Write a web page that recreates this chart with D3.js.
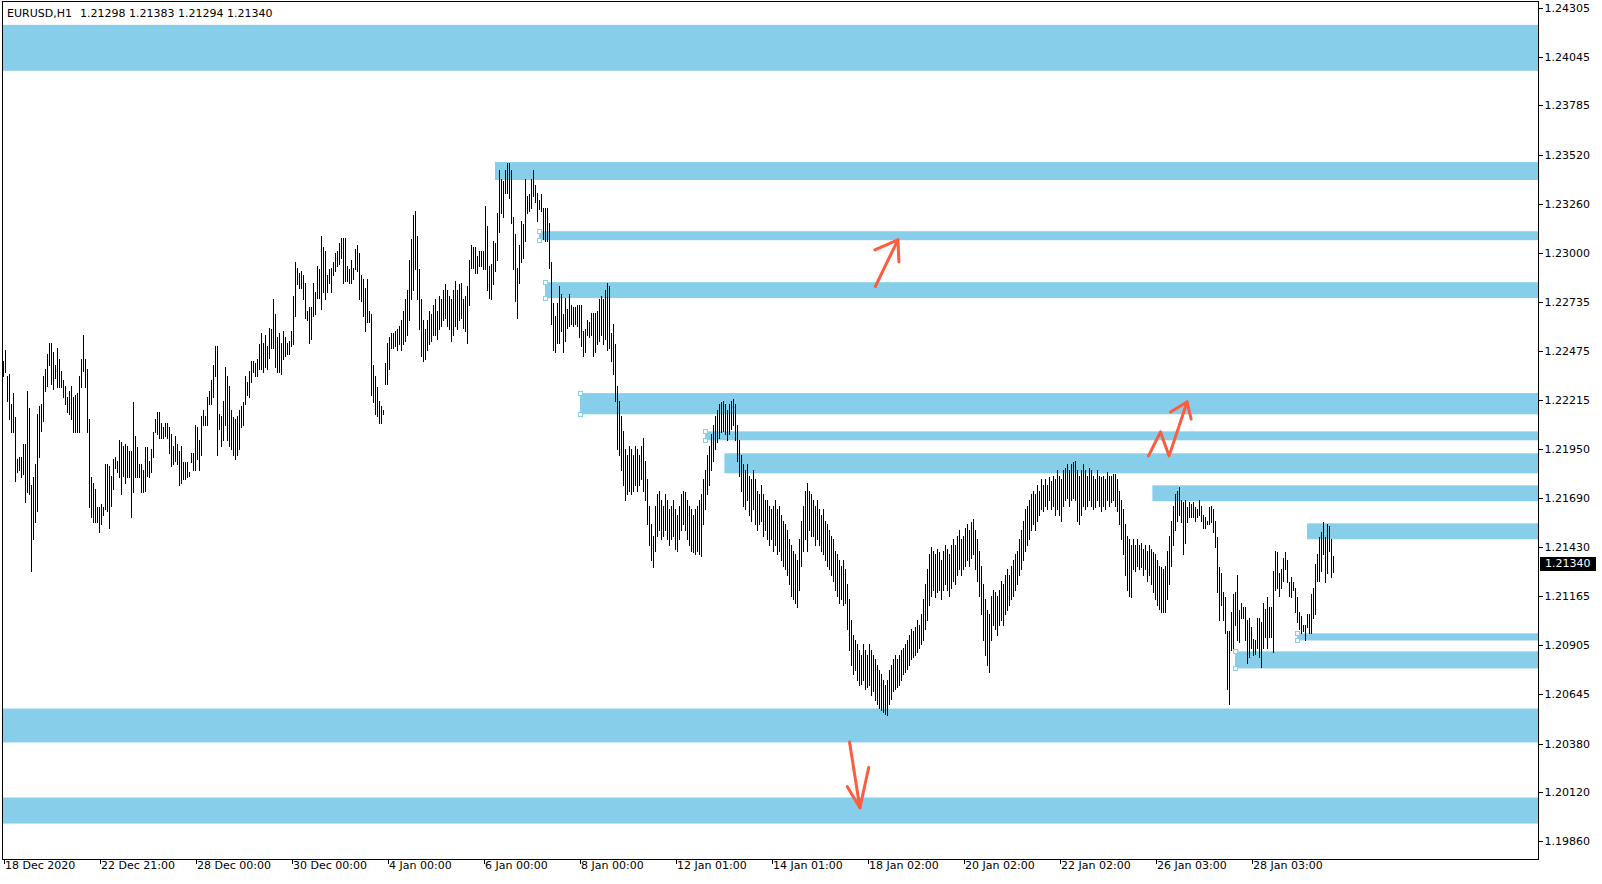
<!DOCTYPE html>
<html><head><meta charset="utf-8">
<script src="https://cdn.jsdelivr.net/npm/d3@7"></script>
<style>
html,body{margin:0;padding:0;background:#fff;overflow:hidden}
svg{display:block;font-family:"DejaVu Sans",sans-serif;font-size:11px}
</style>
</head><body>
<svg id="c" width="1602" height="884"></svg>
<script>
// ---------- DATA ----------
const symbol = "EURUSD,H1";
const ohlc = [1.21298, 1.21383, 1.21294, 1.21340];
const lastPrice = 1.21340;
const priceTicks = [1.24305,1.24045,1.23785,1.23520,1.23260,1.23000,1.22735,1.22475,1.22215,1.21950,1.21690,1.21430,1.21165,1.20905,1.20645,1.20380,1.20120,1.19860];
const timeLabels = ["18 Dec 2020","22 Dec 21:00","28 Dec 00:00","30 Dec 00:00","4 Jan 00:00","6 Jan 00:00","8 Jan 00:00","12 Jan 01:00","14 Jan 01:00","18 Jan 02:00","20 Jan 02:00","22 Jan 02:00","26 Jan 03:00","28 Jan 03:00"];
const barsPerLabel = 48;

// H1 bar highs / lows
const highs = [
1.2242,1.2248,1.2234,1.2235,1.2219,1.2225,1.2212,1.2190,1.2191,1.2191,
1.2198,1.2198,1.2226,1.2217,1.2176,1.2180,1.2187,1.2214,1.2218,1.2219,
1.2234,1.2238,1.2246,1.2252,1.2252,1.2247,1.2240,1.2249,1.2243,1.2237,
1.2232,1.2229,1.2223,1.2226,1.2229,1.2223,1.2224,1.2225,1.2234,1.2243,
1.2256,1.2243,1.2238,1.2211,1.2180,1.2177,1.2174,1.2164,1.2164,1.2166,
1.2164,1.2187,1.2187,1.2186,1.2181,1.2190,1.2191,1.2189,1.2200,1.2199,
1.2197,1.2198,1.2197,1.2194,1.2194,1.2220,1.2202,1.2196,1.2187,1.2187,
1.2184,1.2196,1.2196,1.2189,1.2195,1.2204,1.2211,1.2215,1.2215,1.2209,
1.2207,1.2209,1.2209,1.2207,1.2203,1.2197,1.2202,1.2198,1.2194,1.2197,
1.2188,1.2188,1.2188,1.2183,1.2193,1.2193,1.2208,1.2207,1.2200,1.2213,
1.2216,1.2213,1.2223,1.2226,1.2232,1.2240,1.2250,1.2250,1.2214,1.2213,
1.2221,1.2239,1.2234,1.2229,1.2216,1.2212,1.2211,1.2213,1.2216,1.2218,
1.2220,1.2234,1.2231,1.2237,1.2242,1.2242,1.2241,1.2243,1.2251,1.2257,
1.2252,1.2256,1.2250,1.2260,1.2259,1.2275,1.2267,1.2255,1.2257,1.2252,
1.2258,1.2255,1.2252,1.2253,1.2258,1.2277,1.2295,1.2292,1.2289,1.2290,
1.2288,1.2284,1.2269,1.2271,1.2271,1.2284,1.2279,1.2293,1.2291,1.2309,
1.2303,1.2301,1.2288,1.2291,1.2292,1.2295,1.2300,1.2301,1.2305,1.2308,
1.2308,1.2308,1.2293,1.2291,1.2296,1.2292,1.2302,1.2304,1.2300,1.2288,
1.2286,1.2281,1.2286,1.2269,1.2267,1.2240,1.2234,1.2228,1.2221,1.2218,
1.2216,1.2241,1.2252,1.2255,1.2257,1.2257,1.2258,
1.2259,1.2261,1.2264,1.2269,1.2275,1.2280,1.2296,1.2307,1.2320,1.2322,
1.2309,1.2291,1.2275,1.2264,1.2259,1.2264,1.2269,1.2267,1.2272,1.2275,
1.2269,1.2277,1.2275,1.2280,1.2283,1.2280,1.2277,1.2275,1.2280,1.2285,
1.2280,1.2283,1.2284,1.2275,1.2277,1.2282,1.2296,1.2304,1.2303,1.2303,
1.2298,1.2301,1.2301,1.2301,1.2325,1.2314,1.2293,1.2294,1.2306,1.2305,
1.2321,1.2344,1.2339,1.2338,1.2344,1.2348,1.2348,1.2344,1.2319,1.2310,
1.2292,1.2304,1.2317,1.2315,1.2339,1.2330,1.2331,1.2339,1.2344,1.2336,
1.2332,1.2328,1.2331,1.2324,1.2324,1.2324,1.2316,1.2295,1.2273,1.2266,
1.2273,1.2282,1.2278,1.2267,1.2276,1.2270,1.2278,1.2272,1.2271,1.2271,
1.2272,1.2272,1.2272,1.2258,1.2259,1.2264,1.2263,1.2268,1.2268,1.2268,
1.2269,1.2275,1.2277,1.2275,1.2280,1.2284,1.2282,1.2257,1.2262,1.2251,
1.2229,1.2221,1.2213,1.2205,1.2195,1.2192,1.2197,1.2195,1.2192,1.2197,
1.2195,1.2192,1.2197,1.2201,1.2189,1.2179,1.2165,1.2155,1.2149,1.2165,
1.2171,1.2173,1.2168,1.2165,1.2171,1.2168,1.2163,1.2165,1.2168,1.2163,
1.2160,1.2165,1.2171,1.2173,1.2172,1.2168,1.2165,1.2163,1.2160,1.2163,
1.2165,1.2168,1.2171,1.2179,1.2184,1.2192,1.2197,1.2203,1.2208,1.2213,
1.2216,1.2219,1.2220,1.2221,1.2219,1.2216,1.2219,1.2221,1.2222,1.2219,
1.2208,1.2200,1.2192,1.2187,1.2184,1.2187,1.2181,1.2179,1.2184,1.2179,
1.2173,1.2171,1.2176,1.2171,1.2168,1.2168,1.2165,1.2163,1.2165,1.2168,
1.2163,1.2165,1.2160,1.2157,1.2155,1.2152,1.2147,1.2144,1.2141,1.2139,
1.2136,1.2147,1.2157,1.2165,1.2173,1.2177,1.2173,1.2171,1.2168,1.2165,
1.2168,1.2163,1.2160,1.2163,1.2157,1.2155,1.2152,1.2149,1.2147,1.2141,
1.2139,1.2136,1.2133,1.2136,1.2131,1.2123,1.2115,1.2104,1.2096,1.2093,
1.2091,1.2088,1.2085,1.2091,1.2088,1.2085,1.2091,1.2088,1.2085,1.2083,
1.2080,1.2077,1.2075,1.2072,1.2069,1.2072,1.2077,1.2080,1.2083,1.2085,
1.2083,1.2085,1.2088,1.2089,1.2091,1.2093,1.2096,1.2099,1.2098,1.2100,
1.2104,1.2101,1.2107,1.2115,1.2123,1.2131,1.2139,1.2143,1.2141,1.2139,
1.2142,1.2140,1.2136,1.2141,1.2144,1.2142,1.2139,1.2144,1.2147,1.2144,
1.2149,1.2152,1.2147,1.2149,1.2153,1.2155,1.2152,1.2156,1.2158,1.2152,
1.2147,1.2141,1.2133,1.2123,1.2115,1.2109,1.2107,1.2117,1.2120,1.2119,
1.2117,1.2120,1.2125,1.2123,1.2128,1.2131,1.2128,1.2133,1.2136,1.2139,
1.2141,1.2147,1.2152,1.2157,1.2163,1.2165,1.2168,1.2171,1.2173,1.2171,
1.2176,1.2173,1.2179,1.2176,1.2179,1.2176,1.2180,1.2178,1.2181,1.2179,
1.2184,1.2181,1.2179,1.2184,1.2185,1.2187,1.2184,1.2187,1.2188,1.2189,
1.2184,1.2181,1.2184,1.2187,1.2184,1.2181,1.2185,1.2184,1.2181,1.2179,
1.2184,1.2181,1.2180,1.2181,1.2179,1.2183,1.2181,1.2181,1.2182,1.2182,
1.2179,1.2173,1.2168,1.2163,1.2155,1.2149,1.2147,1.2144,1.2147,1.2144,
1.2147,1.2144,1.2145,1.2142,1.2144,1.2141,1.2144,1.2142,1.2140,1.2139,
1.2136,1.2133,1.2132,1.2131,1.2133,1.2141,1.2149,1.2157,1.2165,1.2171,
1.2173,1.2175,1.2168,1.2167,1.2168,1.2164,1.2167,1.2166,1.2167,1.2164,
1.2163,1.2168,1.2165,1.2160,1.2159,1.2157,1.2164,1.2165,1.2163,1.2157,
1.2148,1.2132,1.2129,1.2119,1.2116,1.2098,1.2098,1.2108,1.2118,1.2119,
1.2128,1.2109,1.2113,1.2111,1.2111,1.2104,1.2105,1.2100,1.2094,1.2093,
1.2105,1.2105,1.2103,1.2113,1.2110,1.2116,1.2111,1.2111,1.2130,1.2141,
1.2140,1.2129,1.2131,1.2137,1.2140,1.2136,1.2124,1.2127,1.2124,1.2121,
1.2116,1.2108,1.2106,1.2101,1.2101,1.2107,1.2107,1.2118,1.2121,1.2134,
1.2139,1.2148,1.2151,1.2156,1.2148,1.2155,1.2154,1.2147,1.21383
];
const lows = [
1.2234,1.2236,1.2221,1.2211,1.2204,1.2204,1.2178,1.2183,1.2184,1.2180,
1.2182,1.2167,1.2172,1.2171,1.2130,1.2147,1.2156,1.2162,1.2191,1.2205,
1.2210,1.2226,1.2229,1.2240,1.2230,1.2227,1.2233,1.2228,1.2228,1.2228,
1.2223,1.2219,1.2215,1.2214,1.2211,1.2204,1.2204,1.2204,1.2204,1.2228,
1.2237,1.2228,1.2204,1.2164,1.2159,1.2156,1.2156,1.2156,1.2151,1.2155,
1.2160,1.2163,1.2162,1.2153,1.2165,1.2174,1.2185,1.2183,1.2180,1.2171,
1.2181,1.2177,1.2180,1.2180,1.2159,1.2172,1.2180,1.2180,1.2180,1.2172,
1.2172,1.2173,1.2181,1.2180,1.2183,1.2191,1.2204,1.2203,1.2201,1.2201,
1.2201,1.2202,1.2201,1.2193,1.2186,1.2187,1.2189,1.2187,1.2176,1.2177,
1.2179,1.2179,1.2180,1.2181,1.2188,1.2184,1.2184,1.2190,1.2184,1.2192,
1.2208,1.2208,1.2208,1.2219,1.2219,1.2223,1.2234,1.2192,1.2206,1.2197,
1.2200,1.2208,1.2200,1.2197,1.2195,1.2192,1.2190,1.2192,1.2195,1.2207,
1.2208,1.2219,1.2224,1.2223,1.2231,1.2236,1.2234,1.2234,1.2238,1.2238,
1.2236,1.2239,1.2238,1.2244,1.2249,1.2249,1.2239,1.2236,1.2236,1.2235,
1.2243,1.2245,1.2246,1.2246,1.2250,1.2251,1.2266,1.2283,1.2281,1.2281,
1.2275,1.2265,1.2264,1.2252,1.2254,1.2266,1.2267,1.2276,1.2276,1.2270,
1.2279,1.2275,1.2279,1.2284,1.2279,1.2288,1.2290,1.2293,1.2294,1.2297,
1.2284,1.2285,1.2285,1.2284,1.2284,1.2286,1.2291,1.2290,1.2275,1.2274,
1.2266,1.2258,1.2263,1.2263,1.2224,1.2220,1.2214,1.2213,1.2209,1.2209,
1.2214,1.2230,1.2230,1.2238,1.2249,1.2249,1.2250,
1.2248,1.2251,1.2248,1.2251,1.2253,1.2256,1.2264,1.2275,1.2280,1.2291,
1.2275,1.2259,1.2245,1.2242,1.2243,1.2248,1.2251,1.2253,1.2256,1.2256,
1.2254,1.2259,1.2261,1.2264,1.2265,1.2261,1.2259,1.2253,1.2256,1.2261,
1.2259,1.2264,1.2265,1.2260,1.2258,1.2252,1.2272,1.2292,1.2292,1.2289,
1.2289,1.2293,1.2293,1.2291,1.2291,1.2280,1.2276,1.2275,1.2283,1.2290,
1.2296,1.2311,1.2321,1.2319,1.2332,1.2332,1.2329,1.2316,1.2291,1.2274,
1.2265,1.2284,1.2295,1.2297,1.2306,1.2321,1.2322,1.2324,1.2330,1.2327,
1.2317,1.2323,1.2322,1.2307,1.2306,1.2306,1.2292,1.2262,1.2248,1.2247,
1.2252,1.2252,1.2258,1.2247,1.2253,1.2260,1.2261,1.2262,1.2261,1.2262,
1.2261,1.2255,1.2250,1.2245,1.2247,1.2256,1.2255,1.2256,1.2245,1.2247,
1.2251,1.2253,1.2256,1.2251,1.2254,1.2248,1.2249,1.2242,1.2235,1.2221,
1.2195,1.2192,1.2184,1.2176,1.2168,1.2171,1.2173,1.2171,1.2173,1.2176,
1.2173,1.2176,1.2179,1.2173,1.2168,1.2155,1.2144,1.2136,1.2132,1.2141,
1.2149,1.2152,1.2147,1.2149,1.2152,1.2147,1.2144,1.2147,1.2149,1.2142,
1.2141,1.2147,1.2152,1.2155,1.2152,1.2147,1.2144,1.2141,1.2140,1.2139,
1.2141,1.2139,1.2138,1.2155,1.2163,1.2171,1.2176,1.2184,1.2189,1.2195,
1.2199,1.2201,1.2204,1.2205,1.2203,1.2200,1.2203,1.2206,1.2208,1.2200,
1.2189,1.2181,1.2173,1.2165,1.2163,1.2168,1.2160,1.2157,1.2163,1.2155,
1.2152,1.2155,1.2157,1.2149,1.2152,1.2147,1.2144,1.2147,1.2141,1.2144,
1.2139,1.2141,1.2136,1.2133,1.2131,1.2128,1.2123,1.2117,1.2115,1.2113,
1.2111,1.2120,1.2133,1.2141,1.2147,1.2141,1.2152,1.2149,1.2149,1.2144,
1.2147,1.2144,1.2141,1.2139,1.2136,1.2133,1.2131,1.2128,1.2125,1.2120,
1.2117,1.2113,1.2115,1.2112,1.2113,1.2099,1.2088,1.2080,1.2075,1.2077,
1.2072,1.2069,1.2070,1.2072,1.2067,1.2068,1.2069,1.2064,1.2066,1.2061,
1.2059,1.2057,1.2056,1.2055,1.2054,1.2053,1.2059,1.2062,1.2066,1.2067,
1.2068,1.2069,1.2072,1.2075,1.2076,1.2078,1.2080,1.2083,1.2084,1.2085,
1.2087,1.2089,1.2091,1.2093,1.2099,1.2104,1.2112,1.2117,1.2120,1.2116,
1.2119,1.2120,1.2115,1.2120,1.2123,1.2120,1.2117,1.2121,1.2125,1.2123,
1.2128,1.2131,1.2128,1.2131,1.2133,1.2136,1.2133,1.2137,1.2139,1.2131,
1.2125,1.2117,1.2107,1.2093,1.2085,1.2080,1.2076,1.2093,1.2101,1.2099,
1.2096,1.2101,1.2104,1.2101,1.2107,1.2109,1.2112,1.2115,1.2117,1.2120,
1.2123,1.2128,1.2131,1.2136,1.2141,1.2144,1.2147,1.2152,1.2155,1.2152,
1.2157,1.2160,1.2163,1.2162,1.2165,1.2163,1.2168,1.2163,1.2165,1.2160,
1.2163,1.2160,1.2157,1.2165,1.2168,1.2169,1.2165,1.2168,1.2169,1.2168,
1.2157,1.2155,1.2160,1.2165,1.2163,1.2165,1.2168,1.2165,1.2163,1.2164,
1.2168,1.2165,1.2162,1.2165,1.2163,1.2168,1.2165,1.2167,1.2168,1.2165,
1.2162,1.2155,1.2147,1.2139,1.2128,1.2120,1.2117,1.2116,1.2131,1.2130,
1.2133,1.2131,1.2132,1.2128,1.2131,1.2125,1.2128,1.2123,1.2119,1.2115,
1.2112,1.2110,1.2108,1.2108,1.2108,1.2115,1.2123,1.2133,1.2144,1.2152,
1.2157,1.2160,1.2156,1.2139,1.2145,1.2156,1.2159,1.2159,1.2159,1.2157,
1.2159,1.2160,1.2157,1.2153,1.2153,1.2155,1.2155,1.2156,1.2151,1.2143,
1.2119,1.2104,1.2112,1.2104,1.2097,1.2067,1.2059,1.2088,1.2089,1.2101,
1.2093,1.2092,1.2105,1.2105,1.2093,1.2081,1.2084,1.2089,1.2085,1.2086,
1.2089,1.2084,1.2079,1.2089,1.2095,1.2089,1.2095,1.2095,1.2087,1.2120,
1.2121,1.2117,1.2121,1.2125,1.2131,1.2124,1.2117,1.2116,1.2120,1.2108,
1.2103,1.2099,1.2097,1.2098,1.2093,1.2100,1.2097,1.2097,1.2105,1.2107,
1.2125,1.2125,1.2130,1.2139,1.2124,1.2129,1.2141,1.2127,1.21294
];

// zones: start bar (null = before visible range), top price, bottom price, handles
const zoneStart  = [null, 246, 268, 271, 288.5, 351, 360.7, 574.7, 652, 647, 616, null, null];
const zoneTop    = [1.24215,1.23483,1.23114,1.22842,1.22250,1.22046,1.21929,1.21758,1.21555,1.20968,1.20872,1.20567,1.20092];
const zoneBottom = [1.23970,1.23387,1.23066,1.22757,1.22137,1.21998,1.21822,1.21673,1.21470,1.20930,1.20781,1.20386,1.19953];
const zoneHandles= [false,false,true,true,true,true,false,false,false,true,true,false,false];

// hand-drawn arrows: polylines in (bar, price)
const arrowUp1   = [[435.9,1.22819],[447.2,1.23068]];
const arrowUp1Hd = [[435.7,1.23014],[447.2,1.23068],[447.7,1.22950]];
const arrowUp2   = [[572.5,1.21915],[578.5,1.22043],[582.8,1.21915],[591.8,1.22203]];
const arrowUp2Hd = [[583.5,1.22149],[591.8,1.22203],[593.8,1.22112]];
const arrowDn    = [[423.0,1.20389],[428.2,1.20037]];
const arrowDnHd  = [[421.9,1.20150],[428.2,1.20037],[432.6,1.20252]];

// ---------- CHART ----------
const L = 2.5, R = 1538.5, T = 1.5, B = 859.5;
const svg = d3.select("#c");
const x = d3.scaleLinear().domain([0, 1]).range([3.5, 5.5]);
const y = d3.scaleLinear().domain([1.19860, 1.24305]).range([841, 8]);

// zones
const zones = zoneTop.map((t, k) => ({start: zoneStart[k], top: t, bot: zoneBottom[k], h: zoneHandles[k]}));
svg.append("g").selectAll("rect").data(zones).join("rect")
  .attr("x", d => d.start === null ? L : x(d.start) - 0.5)
  .attr("width", d => R - (d.start === null ? L : x(d.start) - 0.5))
  .attr("y", d => y(d.top))
  .attr("height", d => y(d.bot) - y(d.top))
  .attr("fill", "#87CEEB");

// bars
const bars = highs.map((h, i) => ({i, h, l: lows[i]}));
svg.append("g").attr("shape-rendering", "crispEdges").selectAll("line").data(bars).join("line")
  .attr("x1", d => x(d.i)).attr("x2", d => x(d.i))
  .attr("y1", d => Math.round(y(d.h))).attr("y2", d => Math.round(y(d.l)) + 1)
  .attr("stroke", "#000").attr("stroke-width", 1);

// handles
const hd = [];
zones.filter(d => d.h).forEach(d => { hd.push([x(d.start) - 0.5, y(d.top)]); hd.push([x(d.start) - 0.5, y(d.bot)]); });
svg.append("g").selectAll("rect").data(hd).join("rect")
  .attr("x", d => Math.round(d[0]) - 2 + 0.5).attr("y", d => Math.round(d[1]) - 2 + 0.5)
  .attr("width", 4).attr("height", 4)
  .attr("fill", "#fff").attr("stroke", "#87CEEB").attr("stroke-width", 1);

// arrows
const line = d3.line().x(d => x(d[0])).y(d => y(d[1]));
svg.append("g").selectAll("path").data([arrowUp1, arrowUp1Hd, arrowUp2, arrowUp2Hd, arrowDn, arrowDnHd]).join("path")
  .attr("d", line).attr("fill", "none").attr("stroke", "#FC5C3F")
  .attr("stroke-width", 3).attr("stroke-linecap", "round").attr("stroke-linejoin", "round");

// frame
svg.append("rect").attr("x", L).attr("y", T).attr("width", R - L).attr("height", B - T)
  .attr("fill", "none").attr("stroke", "#000").attr("stroke-width", 1).attr("shape-rendering", "crispEdges");

// right price axis
const ya = d3.axisRight(y).tickValues(priceTicks).tickSize(4).tickPadding(2).tickFormat(d3.format(".5f"));
const gy = svg.append("g").attr("transform", `translate(${R},0)`).call(ya);
gy.select(".domain").remove();
gy.selectAll(".tick line").attr("stroke", "#000").attr("shape-rendering", "crispEdges");
gy.selectAll(".tick text").attr("fill", "#000").attr("font-family", "DejaVu Sans").attr("font-size", 11).attr("dy", "0.32em");

// bottom time axis
const tickIdx = timeLabels.map((_, k) => k * barsPerLabel);
const xa = d3.axisBottom(x).tickValues(tickIdx).tickSize(4).tickPadding(3).tickFormat((d, k) => timeLabels[k]);
const gx = svg.append("g").attr("transform", `translate(0,${B})`).call(xa);
gx.select(".domain").remove();
gx.selectAll(".tick line").attr("stroke", "#000").attr("shape-rendering", "crispEdges");
gx.selectAll(".tick text").attr("fill", "#000").attr("font-family", "DejaVu Sans").attr("font-size", 11)
  .attr("text-anchor", "start").attr("dx", 1).attr("dy", "0.2em");

// last price label
const ly = y(lastPrice);
svg.append("rect").attr("x", 1540).attr("y", Math.round(ly) - 7).attr("width", 56).attr("height", 14).attr("fill", "#000");
svg.append("text").attr("x", 1545).attr("y", ly).attr("dy", "0.35em").attr("fill", "#fff")
  .attr("font-size", 11).text(d3.format(".5f")(lastPrice));

// title
svg.append("text").attr("x", 7).attr("y", 17).attr("fill", "#000").text(symbol);
svg.append("text").attr("x", 80).attr("y", 17).attr("fill", "#000").text(ohlc.map(d3.format(".5f")).join(" "));
</script>
</body></html>
